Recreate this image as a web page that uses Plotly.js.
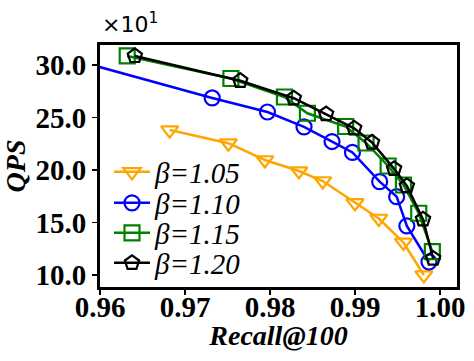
<!DOCTYPE html>
<html>
<head>
<meta charset="utf-8">
<script src="https://cdn.plot.ly/plotly-3.0.1.min.js"></script>
<style>
  body { margin: 0; padding: 0; background: #fff; }
  #graph1 { width: 474px; height: 361px; }
</style>
</head>
<body>
<div id="graph1"></div>
<script>
// recall@100 and QPS (x10^1)
var labels = ['β=1.05', 'β=1.10', 'β=1.15', 'β=1.20'];
var xTicks = [0.96, 0.97, 0.98, 0.99, 1.00];
var xTickText = ['0.96', '0.97', '0.98', '0.99', '1.00'];
var yTicks = [10, 15, 20, 25, 30];

var recall105 = [0.9682, 0.9751, 0.9794, 0.9834, 0.9862, 0.9900, 0.9928, 0.9957, 0.9981];
var qps105    = [23.8, 22.55, 20.95, 19.9, 18.95, 16.86, 15.38, 13.1, 10.0];

var recall110 = [0.955, 0.9732, 0.9797, 0.9840, 0.9873, 0.9897, 0.9929, 0.9949, 0.9961, 0.9987];
var qps110    = [30.9, 26.86, 25.52, 24.1, 22.71, 21.67, 18.89, 17.46, 14.67, 11.24];

var recall115 = [0.9632, 0.9754, 0.9817, 0.9844, 0.9889, 0.9913, 0.9939, 0.9957, 0.9975, 0.9991];
var qps115    = [30.86, 28.71, 26.95, 25.4, 24.14, 22.57, 20.38, 18.57, 15.88, 12.22];

var recall120 = [0.9641, 0.9765, 0.9828, 0.9866, 0.9899, 0.9920, 0.9946, 0.9961, 0.9980, 0.9992];
var qps120    = [30.86, 28.5, 26.83, 25.33, 23.97, 22.62, 20.11, 18.48, 15.3, 11.57];

var colors  = ['#FFA500', '#0000FF', '#008000', '#000000'];
var symbols = ['triangle-down-open', 'circle-open', 'square-open', 'pentagon-open'];
var xs = [recall105, recall110, recall115, recall120];
var ys = [qps105, qps110, qps115, qps120];

// one small legend per series so the rows sit as tight as in the original
var legendNames = ['legend', 'legend2', 'legend3', 'legend4'];
var legendRowY = [172, 203, 233, 263];   // pixel rows of the entries

var traces = [];
for (let i = 0; i < labels.length; i++) {
    traces.push({
        type: 'scatter',
        mode: 'lines+markers',
        name: labels[i],
        legend: legendNames[i],
        x: xs[i],
        y: ys[i],
        line: {color: colors[i], width: 2.5},
        marker: {symbol: symbols[i], size: 15, color: colors[i], line: {width: 2.2, color: colors[i]}},
        cliponaxis: true
    });
}
// invisible copy on the label axis so plotly draws it
traces.push({
    type: 'scatter', mode: 'none', xaxis: 'x2', yaxis: 'y',
    x: recall120, y: qps120, showlegend: false, hoverinfo: 'skip'
});

var xRange = [0.96, 1.002];
var tickFont = {family: 'Liberation Serif', size: 29, color: '#000', weight: 'bold'};
var titleFont = {family: 'Liberation Serif', size: 28, color: '#000', weight: 'bold', style: 'italic'};

var layout = {
    width: 474,
    height: 361,
    margin: {l: 100, r: 17, t: 45, b: 74, pad: 0},
    paper_bgcolor: '#fff',
    plot_bgcolor: '#fff',
    showlegend: true,
    xaxis: {
        range: xRange,
        tickvals: xTicks,
        showticklabels: false,
        ticks: 'outside', ticklen: 5, tickwidth: 1.5, tickcolor: '#000',
        showline: true, linewidth: 3, linecolor: '#000', mirror: true,
        showgrid: false, zeroline: false,
        title: {text: 'Recall@100', font: titleFont, standoff: 32}
    },
    // labels only, sitting closer to the frame than the ticked axis would put them
    xaxis2: {
        overlaying: 'x',
        anchor: 'free',
        position: 0,
        side: 'bottom',
        range: xRange,
        tickvals: xTicks,
        ticktext: xTickText,
        tickfont: tickFont,
        ticks: '',
        showline: false, showgrid: false, zeroline: false
    },
    yaxis: {
        range: [8.86, 31.9],
        tickvals: yTicks,
        tickformat: '.1f',
        tickfont: tickFont,
        ticks: 'outside', ticklen: 5, tickwidth: 1.5, tickcolor: '#000',
        showline: true, linewidth: 3, linecolor: '#000', mirror: true,
        showgrid: false, zeroline: false,
        title: {text: 'QPS', font: titleFont, standoff: 2}
    },
    annotations: [{
        text: '×10<sup>1</sup>',
        xref: 'paper', yref: 'paper',
        x: 0, y: 1, xanchor: 'left', yanchor: 'bottom', yshift: 6,
        showarrow: false,
        font: {family: 'DejaVu Sans', size: 22, color: '#000'}
    }]
};

for (let i = 0; i < legendNames.length; i++) {
    layout[legendNames[i]] = {
        x: 9 / 357, y: (287 - legendRowY[i]) / 242,
        xanchor: 'left', yanchor: 'middle',
        bgcolor: 'rgba(0,0,0,0)',
        borderwidth: 0,
        itemwidth: 36,
        font: {family: 'Liberation Serif', size: 29, color: '#000', style: 'italic'}
    };
}

Plotly.newPlot('graph1', traces, layout, {displayModeBar: false, staticPlot: true});
</script>
</body>
</html>
